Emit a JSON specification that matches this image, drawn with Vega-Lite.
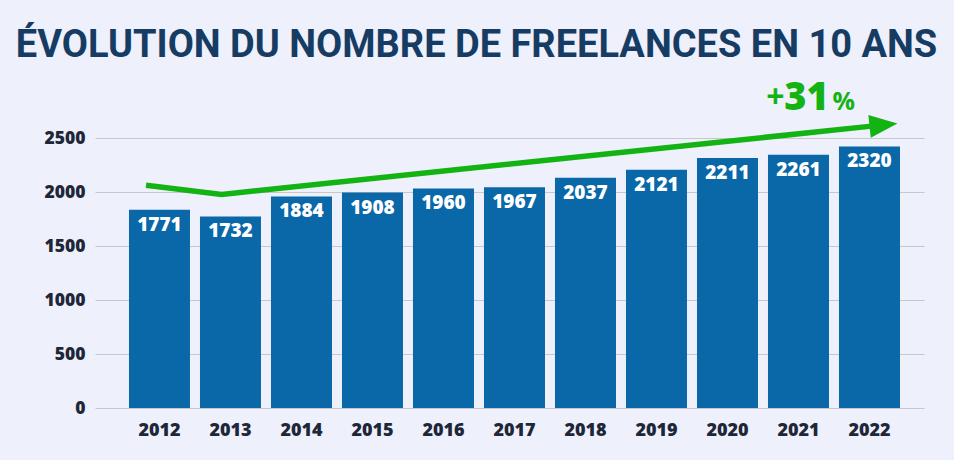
{
  "$schema": "https://vega.github.io/schema/vega-lite/v6.json",
  "autosize": {"type": "none"},
  "padding": {"left": 95, "top": 138, "right": 30, "bottom": 52},
  "width": 829,
  "height": 270,
  "background": "#eef0fc",
  "config": {
    "view": {"stroke": "transparent"},
    "axis": {"labelFont": "Open Sans", "labelFontWeight": 800, "labelColor": "#1e2738"}
  },
  "title": {
    "text": "ÉVOLUTION DU NOMBRE DE FREELANCES EN 10 ANS",
    "font": "Roboto",
    "fontSize": 38,
    "fontWeight": "bold",
    "color": "#163c63",
    "anchor": "middle",
    "frame": "group",
    "dx": -33,
    "offset": 15
  },
  "datasets": {
    "bars": [
      {"year": "2012", "h": 1836, "n": 1771},
      {"year": "2013", "h": 1774, "n": 1732},
      {"year": "2014", "h": 1959, "n": 1884},
      {"year": "2015", "h": 1995, "n": 1908},
      {"year": "2016", "h": 2033, "n": 1960},
      {"year": "2017", "h": 2045, "n": 1967},
      {"year": "2018", "h": 2131, "n": 2037},
      {"year": "2019", "h": 2205, "n": 2121},
      {"year": "2020", "h": 2315, "n": 2211},
      {"year": "2021", "h": 2345, "n": 2261},
      {"year": "2022", "h": 2422, "n": 2320}
    ],
    "trend": [
      {"t": 2011.81, "v": 2063},
      {"t": 2012.876, "v": 1978},
      {"t": 2022.03, "v": 2610}
    ],
    "arrow": [
      {"t": 2022.197, "v": 2621}
    ],
    "growth": [
      {"t": 2021.113, "v": 2756, "pct": 31}
    ]
  },
  "resolve": {"scale": {"x": "independent"}},
  "layer": [
    {
      "data": {"name": "bars"},
      "encoding": {
        "x": {
          "field": "year",
          "type": "nominal",
          "scale": {"paddingInner": 0.1408, "paddingOuter": 0.4084, "align": 0.586},
          "axis": {"title": null, "labelAngle": 0, "labelFontSize": 18, "labelPadding": 13, "ticks": false, "domain": false}
        },
        "y": {
          "field": "h",
          "type": "quantitative",
          "scale": {"domain": [0, 2500], "nice": false},
          "axis": {
            "title": null,
            "values": [0, 500, 1000, 1500, 2000, 2500],
            "format": "d",
            "labelFontSize": 17.5,
            "labelPadding": 10,
            "ticks": false,
            "domain": false,
            "gridColor": "#c8c8c8"
          }
        }
      },
      "layer": [
        {"mark": {"type": "bar", "color": "#0a67a8"}},
        {
          "mark": {"type": "text", "color": "white", "font": "Open Sans", "fontWeight": 800, "fontSize": 19, "baseline": "alphabetic", "dy": 21},
          "encoding": {"text": {"field": "n", "type": "quantitative", "format": "d"}}
        }
      ]
    },
    {
      "encoding": {
        "x": {"field": "t", "type": "quantitative", "scale": {"domain": [2011.0915, 2022.7675], "nice": false, "zero": false}, "axis": null},
        "y": {"field": "v", "type": "quantitative", "scale": {"domain": [0, 2500], "nice": false}}
      },
      "layer": [
        {
          "data": {"name": "trend"},
          "mark": {"type": "line", "color": "#13b313", "strokeWidth": 5.5, "strokeCap": "butt", "strokeJoin": "miter"}
        },
        {
          "data": {"name": "arrow"},
          "mark": {"type": "point", "shape": "M-1,-0.82L1,0L-1,0.82Z", "size": 784, "angle": -6, "filled": true, "color": "#13b313", "opacity": 1}
        },
        {
          "data": {"name": "growth"},
          "layer": [
            {
              "mark": {"type": "text", "color": "#13b313", "font": "Open Sans", "fontWeight": 800, "fontSize": 38, "baseline": "alphabetic"},
              "encoding": {"text": {"field": "pct", "type": "quantitative"}}
            },
            {
              "mark": {"type": "text", "text": "+", "color": "#13b313", "font": "Open Sans", "fontWeight": "bold", "fontSize": 32, "baseline": "alphabetic", "align": "right", "dx": -22, "dy": -2}
            },
            {
              "mark": {"type": "text", "text": "%", "color": "#13b313", "font": "Open Sans", "fontWeight": "bold", "fontSize": 25, "baseline": "alphabetic", "align": "left", "dx": 26}
            }
          ]
        }
      ]
    }
  ]
}
